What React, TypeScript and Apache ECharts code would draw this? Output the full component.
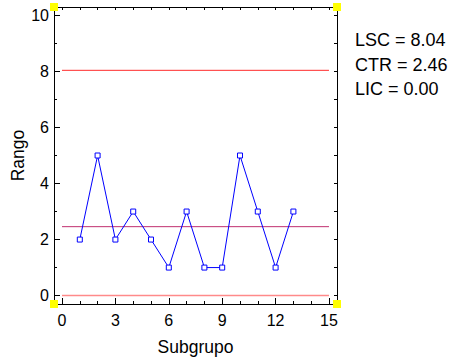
import React, { useEffect, useRef } from "react";
import * as echarts from "echarts";

const subgroups = [1, 2, 3, 4, 5, 6, 7, 8, 9, 10, 11, 12, 13];
const ranges = [2, 5, 2, 3, 2, 1, 3, 1, 1, 5, 3, 1, 3];
const LSC = 8.04;
const CTR = 2.46;
const LIC = 0.0;
const xMajorTicks = [0, 3, 6, 9, 12, 15];
const xMinorTicks = [1, 2, 4, 5, 7, 8, 10, 11, 13, 14];
const xAllTicks = [0, 1, 2, 3, 4, 5, 6, 7, 8, 9, 10, 11, 12, 13, 14, 15];
const yMajorTicks = [0, 2, 4, 6, 8, 10];
const yMinorTicks = [1, 3, 5, 7, 9];
const yAllTicks = [0, 1, 2, 3, 4, 5, 6, 7, 8, 9, 10];
const limitLabels = [
  `LSC = ${LSC.toFixed(2)}`,
  `CTR = ${CTR.toFixed(2)}`,
  `LIC = ${LIC.toFixed(2)}`,
];

const W = 451;
const H = 363;
const G = { left: 54, top: 7, right: 337, bottom: 304 };
const FONT = "Liberation Sans, Arial, sans-serif";

export default function App() {
  const ref = useRef<HTMLDivElement>(null);
  useEffect(() => {
    document.body.style.margin = "0";
    const chart = echarts.init(ref.current!, null, { renderer: "svg" });
    const xRange = { min: -0.45, max: 15.45 };
    const yRange = { min: -0.3, max: 10.3 };
    const lineC = "#000";
    const corners = [
      [G.left, G.top],
      [G.right, G.top],
      [G.left, G.bottom],
      [G.right, G.bottom],
    ];
    chart.setOption({
      animation: false,
      backgroundColor: "#fff",
      textStyle: { fontFamily: FONT },
      grid: {
        left: G.left,
        top: G.top,
        width: G.right - G.left,
        height: G.bottom - G.top,
        containLabel: false,
        outerBoundsMode: "none",
      },
      xAxis: [
        {
          type: "value",
          position: "bottom",
          ...xRange,
          axisLine: { show: true, onZero: false, lineStyle: { color: lineC, width: 1 } },
          axisTick: { show: true, inside: true, length: 6, customValues: xMajorTicks, lineStyle: { color: lineC } },
          axisLabel: { show: true, customValues: xMajorTicks, fontSize: 16, color: "#000", margin: 8, fontFamily: FONT },
          splitLine: { show: false },
          name: "Subgrupo",
          nameLocation: "middle",
          nameGap: 34,
          nameMoveOverlap: false,
          nameTextStyle: { fontSize: 17.5, color: "#000", fontFamily: FONT },
        },
        {
          type: "value",
          position: "bottom",
          ...xRange,
          axisLine: { show: false, onZero: false },
          axisTick: { show: true, inside: true, length: 3, customValues: xMinorTicks, lineStyle: { color: lineC } },
          axisLabel: { show: false },
          splitLine: { show: false },
        },
        {
          type: "value",
          position: "top",
          ...xRange,
          axisLine: { show: true, onZero: false, lineStyle: { color: lineC, width: 1 } },
          axisTick: { show: true, inside: true, length: 3, customValues: xAllTicks, lineStyle: { color: lineC } },
          axisLabel: { show: false },
          splitLine: { show: false },
        },
      ],
      yAxis: [
        {
          type: "value",
          position: "left",
          ...yRange,
          axisLine: { show: true, onZero: false, lineStyle: { color: lineC, width: 1 } },
          axisTick: { show: true, inside: true, length: 6, customValues: yMajorTicks, lineStyle: { color: lineC } },
          axisLabel: { show: true, customValues: yMajorTicks, fontSize: 16, color: "#000", margin: 5, fontFamily: FONT },
          splitLine: { show: false },
          name: "Rango",
          nameLocation: "middle",
          nameGap: 27,
          nameMoveOverlap: false,
          nameTextStyle: { fontSize: 17.5, color: "#000", fontFamily: FONT },
        },
        {
          type: "value",
          position: "left",
          ...yRange,
          axisLine: { show: false, onZero: false },
          axisTick: { show: true, inside: true, length: 3, customValues: yMinorTicks, lineStyle: { color: lineC } },
          axisLabel: { show: false },
          splitLine: { show: false },
        },
        {
          type: "value",
          position: "right",
          ...yRange,
          axisLine: { show: true, onZero: false, lineStyle: { color: lineC, width: 1 } },
          axisTick: { show: true, inside: true, length: 3, customValues: yAllTicks, lineStyle: { color: lineC } },
          axisLabel: { show: false },
          splitLine: { show: false },
        },
      ],
      series: [
        {
          type: "line",
          name: "LIC",
          data: [[0, LIC], [15, LIC]],
          symbol: "none",
          lineStyle: { color: "#ff8a8a", width: 1.5 },
          silent: true,
        },
        {
          type: "line",
          name: "LSC",
          data: [[0, LSC], [15, LSC]],
          symbol: "none",
          lineStyle: { color: "#ff2a2a", width: 1 },
          silent: true,
        },
        {
          type: "line",
          name: "CTR",
          data: [[0, CTR], [15, CTR]],
          symbol: "none",
          lineStyle: { color: "#c03070", width: 1 },
          silent: true,
        },
        {
          type: "line",
          name: "Rango",
          data: subgroups.map((s, i) => [s, ranges[i]]),
          symbol: "rect",
          symbolSize: 5,
          lineStyle: { color: "#0000ff", width: 1 },
          itemStyle: { color: "#fff", borderColor: "#0000ff", borderWidth: 1 },
          z: 5,
        },
      ],
      graphic: [
        ...corners.map(([cx, cy]) => ({
          type: "rect",
          shape: { x: cx - 4, y: cy - 4, width: 8, height: 8 },
          style: { fill: "#ffff00" },
          z: 10,
        })),
        ...limitLabels.map((t, i) => ({
          type: "text",
          x: 355,
          y: 40 + i * 24.5,
          style: {
            text: t,
            fontSize: 18,
            fontFamily: FONT,
            fill: "#000",
            verticalAlign: "middle",
          },
        })),
      ],
    });
    return () => chart.dispose();
  }, []);
  return <div ref={ref} style={{ width: W, height: H }} />;
}
